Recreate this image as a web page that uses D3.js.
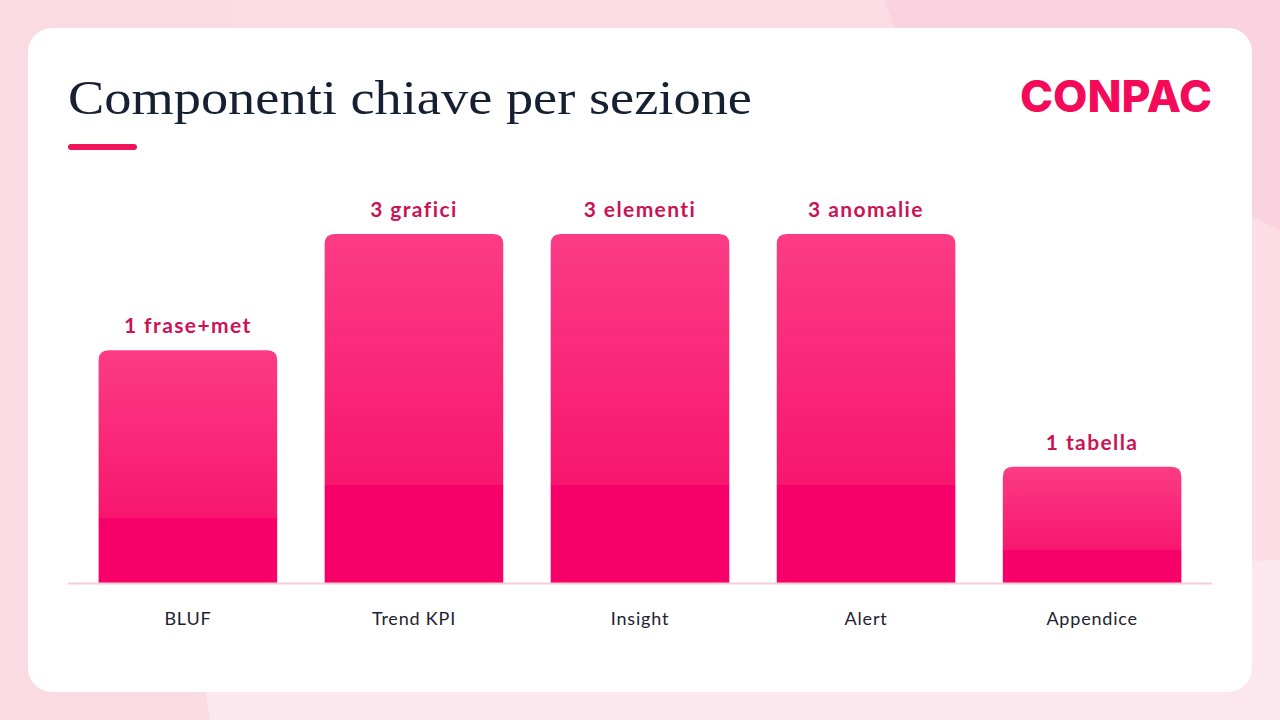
<!DOCTYPE html>
<html><head><meta charset="utf-8">
<script src="https://cdn.jsdelivr.net/npm/d3@7"></script>
<style>html,body{margin:0;padding:0;background:#f9d4e0;}svg{display:block;}</style>
</head><body>
<svg id="c" width="1280" height="720"></svg>
<script>
const categories = ["BLUF", "Trend KPI", "Insight", "Alert", "Appendice"];
const values = [2, 3, 3, 3, 1];
const valueLabels = ["1 frase+met", "3 grafici", "3 elementi", "3 anomalie", "1 tabella"];
const title = "Componenti chiave per sezione";
const brand = "CONPAC";

const svg = d3.select("#c");
const W = 1280, H = 720;

// background
svg.append("rect").attr("width", W).attr("height", H).attr("fill", "#f9d3df");
svg.append("path").attr("d", "M0,0 L230,0 L300,720 L0,720 Z").attr("fill", "#fadbe4");
svg.append("path").attr("d", "M230,0 L885,0 L905,60 L1280,230 L1280,720 L300,720 Z").attr("fill", "#fcdde6");
svg.append("path").attr("d", "M885,0 L1280,0 L1280,210 L905,60 Z").attr("fill", "#f9d3df");
svg.append("path").attr("d", "M210,720 L190,600 L1280,560 L1280,720 Z").attr("fill", "#fbe7ed");

// card
svg.append("rect").attr("x", 28).attr("y", 28).attr("width", 1224).attr("height", 664)
  .attr("rx", 24).attr("fill", "#ffffff");

// title
svg.append("text").attr("x", 68).attr("y", 114).text(title)
  .attr("font-family", "'Liberation Serif', 'DejaVu Serif', serif")
  .attr("font-size", 49).attr("fill", "#172033")
  .attr("textLength", 684).attr("lengthAdjust", "spacingAndGlyphs");
svg.append("rect").attr("x", 68).attr("y", 144).attr("width", 69).attr("height", 6)
  .attr("rx", 3).attr("fill", "#f0145c");

// brand
svg.append("text").attr("x", 1020).attr("y", 112).text(brand)
  .attr("font-family", "Inter, 'Noto Sans', sans-serif").attr("font-weight", 800)
  .attr("font-size", 44).attr("fill", "#f50a5a")
  .attr("textLength", 192).attr("lengthAdjust", "spacingAndGlyphs");

// scales
const x = d3.scaleBand().domain(categories).range([76, 1204]).paddingInner(0.21).paddingOuter(0.1);
const y = d3.scaleLinear().domain([0, 3]).range([583, 234]);

const defs = svg.append("defs");
const g = defs.append("linearGradient").attr("id", "bg").attr("x1", 0).attr("y1", 0).attr("x2", 0).attr("y2", 1);
g.append("stop").attr("offset", "0%").attr("stop-color", "#fb3c84");
g.append("stop").attr("offset", "71.9%").attr("stop-color", "#f8166e");
g.append("stop").attr("offset", "72%").attr("stop-color", "#f8006a");
g.append("stop").attr("offset", "100%").attr("stop-color", "#f8006a");

const r = 10;
function barPath(d, i) {
  const x0 = x(categories[i]), w = x.bandwidth(), y0 = y(d), y1 = y(0);
  return `M${x0},${y1} L${x0},${y0 + r} Q${x0},${y0} ${x0 + r},${y0} L${x0 + w - r},${y0} Q${x0 + w},${y0} ${x0 + w},${y0 + r} L${x0 + w},${y1} Z`;
}

svg.append("g").selectAll("path").data(values).join("path")
  .attr("d", barPath).attr("fill", "url(#bg)");

// baseline
svg.append("line").attr("x1", 68).attr("x2", 1212).attr("y1", 583.5).attr("y2", 583.5)
  .attr("stroke", "#f6cdd9").attr("stroke-width", 2);

// value labels
svg.append("g").selectAll("text").data(values).join("text")
  .attr("x", (d, i) => x(categories[i]) + x.bandwidth() / 2)
  .attr("y", d => y(d) - 17)
  .attr("text-anchor", "middle")
  .attr("font-family", "Lato, 'Noto Sans', sans-serif").attr("font-weight", 700)
  .attr("font-size", 21).attr("letter-spacing", 1.4).attr("fill", "#cc1256")
  .text((d, i) => valueLabels[i]);

// category labels
const xAxis = d3.axisBottom(x).tickSize(0).tickPadding(0);
const ax = svg.append("g").attr("transform", "translate(0,625)").call(xAxis);
ax.select(".domain").remove();
ax.selectAll("text").attr("font-family", "Lato, 'Noto Sans', sans-serif")
  .attr("font-size", 18).attr("letter-spacing", 0.8).attr("fill", "#1d2230").attr("dy", 0);
</script>
</body></html>
